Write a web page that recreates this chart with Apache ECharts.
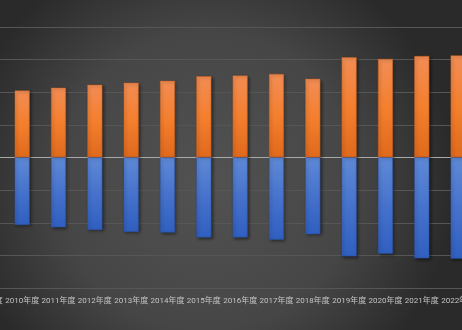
<!DOCTYPE html>
<html lang="zh">
<head>
  <meta charset="UTF-8">
  <title>年度推移</title>
  <style type="text/css">
    * { margin: 0; padding: 0; }
    html, body { width: 100%; height: 100%; overflow: hidden; }
    body { background: #3a3a3a; }
    #main { width: 512px; height: 330px; margin-left: -34px; }
  </style>
  <script type="text/javascript" src="https://cdn.jsdelivr.net/npm/echarts@6/dist/echarts.min.js"></script>
</head>
<body>
<div id="main"></div>
<script type="text/javascript">
  // 年度（2009年度は左端で切れている）
  var years = ['2009年度', '2010年度', '2011年度', '2012年度', '2013年度', '2014年度', '2015年度',
    '2016年度', '2017年度', '2018年度', '2019年度', '2020年度', '2021年度', '2022年度'];
  var upper = [null, 205, 214, 223, 229, 235, 249, 251, 256, 241, 307, 302, 311, 313];
  var lower = [null, -207, -214, -222, -228, -230, -245, -245, -252, -235, -303, -295, -309, -310];
  var yTicks = [-400, -300, -200, -100, 0, 100, 200, 300, 400];

  var gridColors = yTicks.map(function (v) { return v === 0 ? '#a9a9a9' : '#565656'; });

  var myChart = echarts.init(document.getElementById('main'));
  var option = {
    animation: false,
    backgroundColor: {
      type: 'radial', x: 0.47, y: 0.55, r: 0.75,
      colorStops: [
        { offset: 0, color: '#525252' },
        { offset: 0.6, color: '#464646' },
        { offset: 1, color: '#2a2a2a' }
      ]
    },
    grid: { left: 0, right: 0, top: 27, bottom: 42 },
    xAxis: {
      type: 'category',
      data: years,
      axisLine: { show: false, onZero: false },
      axisTick: { show: false },
      axisLabel: {
        color: '#c4c4c4',
        fontSize: 8,
        fontFamily: 'Roboto, "Noto Sans CJK JP"',
        margin: 9,
        interval: 0
      }
    },
    yAxis: {
      type: 'value',
      min: yTicks[0],
      max: yTicks[yTicks.length - 1],
      interval: 100,
      axisLabel: { show: false },
      axisLine: { show: false },
      axisTick: { show: false },
      splitLine: { lineStyle: { color: gridColors, width: 1.2 } }
    },
    series: [
      {
        type: 'bar',
        stack: 'a',
        barWidth: 15,
        data: upper,
        itemStyle: {
          color: new echarts.graphic.LinearGradient(0, 0, 0, 1, [
            { offset: 0, color: '#f28d55' },
            { offset: 0.5, color: '#f47f2e' },
            { offset: 1, color: '#e0691c' }
          ]),
          borderColor: '#c25d1e',
          borderWidth: 0.5,
          shadowColor: 'rgba(0,0,0,0.45)',
          shadowBlur: 3,
          shadowOffsetX: 1.5,
          shadowOffsetY: 1.5
        }
      },
      {
        type: 'bar',
        stack: 'a',
        barWidth: 15,
        data: lower,
        itemStyle: {
          color: new echarts.graphic.LinearGradient(0, 0, 0, 1, [
            { offset: 0, color: '#5f89d6' },
            { offset: 0.5, color: '#4672cc' },
            { offset: 1, color: '#305fc0' }
          ]),
          borderColor: '#2b529f',
          borderWidth: 0.5,
          shadowColor: 'rgba(0,0,0,0.45)',
          shadowBlur: 3,
          shadowOffsetX: 1.5,
          shadowOffsetY: 1.5
        }
      }
    ]
  };
  myChart.setOption(option);
</script>
</body>
</html>
